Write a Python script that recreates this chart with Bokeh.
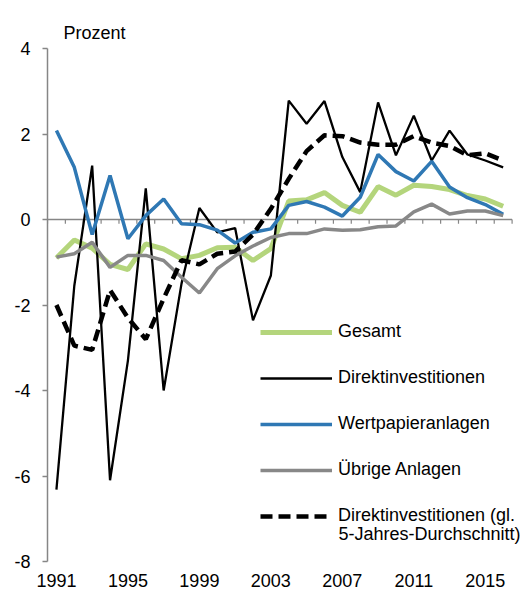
from bokeh.plotting import figure
from bokeh.models import Legend, LegendItem, Label, FixedTicker, Range1d
from bokeh.embed import file_html
from bokeh.resources import INLINE

years = list(range(1991, 2017))

gesamt = [-0.90, -0.48, -0.67, -1.05, -1.17, -0.57, -0.69, -0.92, -0.84, -0.66,
          -0.65, -0.96, -0.68, 0.43, 0.46, 0.63, 0.33, 0.17, 0.77, 0.57,
          0.80, 0.77, 0.70, 0.56, 0.48, 0.31]

direkt = [-6.32, -1.55, 1.26, -6.10, -3.30, 0.73, -4.00, -1.50, 0.27, -0.30,
          -0.20, -2.36, -1.31, 2.78, 2.24, 2.77, 1.46, 0.64, 2.74, 1.50,
          2.43, 1.38, 2.08, 1.52, 1.38, 1.22]

wertpapier = [2.08, 1.22, -0.35, 1.03, -0.45, 0.09, 0.48, -0.10, -0.12, -0.25,
              -0.55, -0.30, -0.22, 0.33, 0.42, 0.29, 0.08, 0.52, 1.52, 1.12,
              0.90, 1.36, 0.76, 0.51, 0.35, 0.12]

uebrige = [-0.88, -0.80, -0.53, -1.12, -0.84, -0.84, -0.96, -1.35, -1.72, -1.15,
           -0.85, -0.62, -0.42, -0.33, -0.33, -0.22, -0.25, -0.24, -0.17, -0.15,
           0.18, 0.36, 0.13, 0.20, 0.20, 0.09]

direkt_avg = [-2.00, -2.95, -3.05, -1.65, -2.30, -2.80, -1.85, -0.95, -1.05, -0.80,
              -0.75, -0.35, 0.25, 0.95, 1.60, 1.97, 1.95, 1.80, 1.75, 1.75,
              1.95, 1.80, 1.72, 1.50, 1.55, 1.38]

series_names = ["Gesamt", "Direktinvestitionen", "Wertpapieranlagen",
                "Übrige Anlagen", "Direktinvestitionen (gl."]
avg_second_line = "5-Jahres-Durchschnitt)"
y_unit = "Prozent"

x_tick_years = [1991, 1995, 1999, 2003, 2007, 2011, 2015]
y_ticks = [-8, -6, -4, -2, 0, 2, 4]
y_tick_labels = ["-8", "-6", "-4", "-2", "0", "2", "4"]

FONT = "Liberation Sans"
FS = "18px"
AXIS_GRAY = "#868686"

# category boundaries (Excel-style category axis)
bounds = [y - 0.5 for y in years] + [years[-1] + 0.5]

# range extends a little beyond the last category to leave room for the legend text
p = figure(width=527, height=591, output_backend="svg", toolbar_location=None,
           x_range=Range1d(bounds[0], bounds[-1] + 0.75),
           y_range=Range1d(y_ticks[0], y_ticks[-1]),
           min_border_left=47, min_border_right=2, min_border_top=48,
           min_border_bottom=30)
p.outline_line_color = None
p.grid.visible = False
p.background_fill_color = "white"

# unit label as title
p.title.text = y_unit
p.title.align = "left"
p.title.offset = 16
p.title.standoff = 12
p.title.text_font = FONT
p.title.text_font_size = FS
p.title.text_font_style = "normal"
p.title.text_color = "black"

# y axis
p.yaxis.ticker = FixedTicker(ticks=y_ticks)
p.yaxis.major_label_overrides = {t: l for t, l in zip(y_ticks, y_tick_labels)}
p.yaxis.axis_line_color = AXIS_GRAY
p.yaxis.axis_line_width = 1.5
p.yaxis.major_tick_line_color = AXIS_GRAY
p.yaxis.major_tick_line_width = 1.5
p.yaxis.major_tick_out = 5
p.yaxis.major_tick_in = 0
p.yaxis.minor_tick_line_color = None
p.yaxis.major_label_standoff = 12
p.yaxis.major_label_text_font = FONT
p.yaxis.major_label_text_font_size = FS
p.yaxis.major_label_text_color = "black"

# x axis (labels only at bottom)
p.xaxis.ticker = FixedTicker(ticks=x_tick_years)
p.xaxis.major_label_overrides = {t: str(t) for t in x_tick_years}
p.xaxis.axis_line_color = None
p.xaxis.major_tick_line_color = None
p.xaxis.minor_tick_line_color = None
p.xaxis.major_label_standoff = 6
p.xaxis.major_label_text_font = FONT
p.xaxis.major_label_text_font_size = FS
p.xaxis.major_label_text_color = "black"

# zero line with category ticks
p.line(x=[bounds[0], bounds[-1]], y=[0, 0], line_color=AXIS_GRAY, line_width=1.5)
p.segment(x0=bounds, x1=bounds, y0=[0] * len(bounds), y1=[-0.1] * len(bounds),
          line_color=AXIS_GRAY, line_width=1.2)

r_g = p.line(years, gesamt, line_color="#B4D57C", line_width=5)
r_d = p.line(years, direkt, line_color="black", line_width=2.3)
r_w = p.line(years, wertpapier, line_color="#2F78B4", line_width=3.5)
r_u = p.line(years, uebrige, line_color="#888888", line_width=3.5)
r_a = p.line(years, direkt_avg, line_color="black", line_width=4.5, line_dash="12 6")

legend = Legend(items=[LegendItem(label=n, renderers=[r]) for n, r in
                       zip(series_names, [r_g, r_d, r_w, r_u, r_a])],
                location=(213, 35))
legend.padding = 0
legend.margin = 0
legend.spacing = 25
legend.glyph_width = 72
legend.glyph_height = 20
legend.label_height = 20
legend.label_standoff = 6
legend.border_line_color = None
legend.background_fill_alpha = 0
legend.label_text_font = FONT
legend.label_text_font_size = FS
legend.label_text_color = "black"
p.add_layout(legend)

p.add_layout(Label(x=291, y=28, x_units="screen", y_units="screen",
                   text=avg_second_line, text_font=FONT, text_font_size=FS,
                   text_baseline="middle", text_color="black"))

open("out.html", "w").write(file_html(p, INLINE))
